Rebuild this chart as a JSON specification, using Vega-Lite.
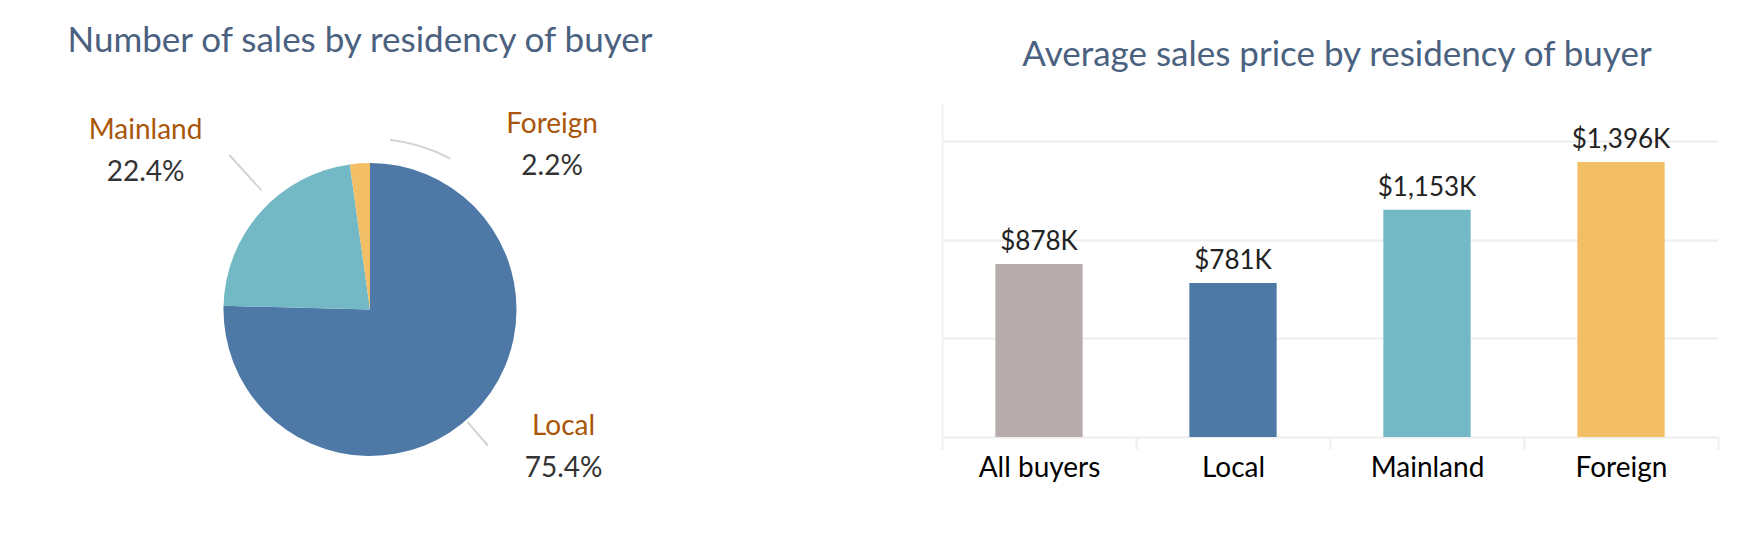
{
  "$schema": "https://vega.github.io/schema/vega-lite/v6.json",
  "padding": {"left": 65, "top": 24, "right": 5, "bottom": 5},
  "background": "white",
  "config": {
    "font": "Lato",
    "view": {"stroke": null},
    "title": {"font": "Lato", "fontSize": 35, "fontWeight": "normal", "color": "#4a6180", "anchor": "middle"}
  },
  "spacing": 271,
  "hconcat": [
    {
      "width": 600,
      "height": 411,
      "title": {"text": "Number of sales by residency of buyer", "offset": 45, "dx": -10},
      "data": {"values": [
        {"residency": "Local", "share": 0.754, "rank": 1},
        {"residency": "Mainland", "share": 0.224, "rank": 2},
        {"residency": "Foreign", "share": 0.022, "rank": 3}
      ]},
      "layer": [
        {
          "mark": {"type": "arc", "outerRadius": 146.5},
          "encoding": {
            "theta": {"field": "share", "type": "quantitative", "stack": true, "scale": {"domain": [0, 1]}},
            "order": {"field": "rank", "type": "quantitative"},
            "color": {"field": "residency", "type": "nominal", "legend": null,
              "scale": {"domain": ["All buyers", "Local", "Mainland", "Foreign"], "range": ["#b6acab", "#4e79a7", "#72b8c5", "#f3bf66"]}}
          }
        },
        {
          "transform": [
            {"stack": "share", "groupby": [], "sort": [{"field": "rank", "order": "ascending"}], "as": ["s0", "s1"]},
            {"calculate": "(datum.s0 + datum.s1) / 2", "as": "mid"},
            {"filter": "datum.residency === 'Local'"}
          ],
          "encoding": {"theta": {"field": "mid", "type": "quantitative", "stack": null, "scale": {"domain": [0, 1]}}},
          "layer": [
            {
              "mark": {"type": "arc", "innerRadius": 149, "outerRadius": 180, "thetaOffset": 0.053, "theta2Offset": 0.065, "color": "#d4d4d4"},
              "encoding": {"theta2": {"field": "mid"}}
            },
            {
              "mark": {"type": "text", "radius": 238, "thetaOffset": -0.177, "dy": -21, "fontSize": 28, "color": "#a9560a", "baseline": "middle"},
              "encoding": {"text": {"field": "residency", "type": "nominal"}}
            },
            {
              "mark": {"type": "text", "radius": 238, "thetaOffset": -0.177, "dy": 21, "fontSize": 28, "color": "#333333", "baseline": "middle"},
              "encoding": {"text": {"field": "share", "type": "quantitative", "format": ".1%"}}
            }
          ]
        },
        {
          "transform": [
            {"stack": "share", "groupby": [], "sort": [{"field": "rank", "order": "ascending"}], "as": ["s0", "s1"]},
            {"calculate": "(datum.s0 + datum.s1) / 2", "as": "mid"},
            {"filter": "datum.residency === 'Mainland'"}
          ],
          "encoding": {"theta": {"field": "mid", "type": "quantitative", "stack": null, "scale": {"domain": [0, 1]}}},
          "layer": [
            {
              "mark": {"type": "arc", "innerRadius": 161, "outerRadius": 209, "thetaOffset": 0.098, "theta2Offset": 0.109, "color": "#d4d4d4"},
              "encoding": {"theta2": {"field": "mid"}}
            },
            {
              "mark": {"type": "text", "radius": 274, "thetaOffset": -0.118, "dy": -21, "fontSize": 28, "color": "#a9560a", "baseline": "middle"},
              "encoding": {"text": {"field": "residency", "type": "nominal"}}
            },
            {
              "mark": {"type": "text", "radius": 274, "thetaOffset": -0.118, "dy": 21, "fontSize": 28, "color": "#333333", "baseline": "middle"},
              "encoding": {"text": {"field": "share", "type": "quantitative", "format": ".1%"}}
            }
          ]
        },
        {
          "transform": [
            {"stack": "share", "groupby": [], "sort": [{"field": "rank", "order": "ascending"}], "as": ["s0", "s1"]},
            {"calculate": "(datum.s0 + datum.s1) / 2", "as": "mid"},
            {"filter": "datum.residency === 'Foreign'"}
          ],
          "encoding": {"theta": {"field": "mid", "type": "quantitative", "stack": null, "scale": {"domain": [0, 1]}}},
          "layer": [
            {
              "mark": {"type": "arc", "innerRadius": 170, "outerRadius": 172, "thetaOffset": 0.186, "theta2Offset": 0.558, "color": "#d4d4d4"},
              "encoding": {"theta2": {"field": "mid"}}
            },
            {
              "mark": {"type": "text", "radius": 245, "thetaOffset": 0.907, "dy": -21, "fontSize": 28, "color": "#a9560a", "baseline": "middle"},
              "encoding": {"text": {"field": "residency", "type": "nominal"}}
            },
            {
              "mark": {"type": "text", "radius": 245, "thetaOffset": 0.907, "dy": 21, "fontSize": 28, "color": "#333333", "baseline": "middle"},
              "encoding": {"text": {"field": "share", "type": "quantitative", "format": ".1%"}}
            }
          ]
        }
      ]
    },
    {
      "width": 776,
      "height": 333,
      "title": {"text": "Average sales price by residency of buyer", "offset": 31, "dx": 7},
      "data": {"values": [
        {"residency": "All buyers", "price": 878},
        {"residency": "Local", "price": 781},
        {"residency": "Mainland", "price": 1153},
        {"residency": "Foreign", "price": 1396}
      ]},
      "transform": [{"calculate": "'$' + format(datum.price, ',') + 'K'", "as": "label"}],
      "encoding": {
        "x": {"field": "residency", "type": "nominal", "sort": ["All buyers", "Local", "Mainland", "Foreign"],
          "scale": {"paddingInner": 0, "paddingOuter": 0},
          "axis": {"title": null, "labelAngle": 0, "labelFontSize": 28, "labelColor": "#000000", "labelPadding": 5,
            "tickBand": "extent", "tickSize": 12, "tickColor": "#eeeeee", "tickWidth": 2,
            "domainColor": "#eeeeee", "domainWidth": 2, "grid": false}},
        "y": {"field": "price", "type": "quantitative", "scale": {"domain": [0, 1690], "nice": false},
          "axis": {"title": null, "labels": false, "ticks": false, "values": [500, 1000, 1500],
            "grid": true, "gridColor": "#eeeeee", "gridWidth": 2, "domain": true, "domainColor": "#f2f2f2", "domainWidth": 2}}
      },
      "layer": [
        {
          "mark": {"type": "bar", "width": {"band": 0.45}},
          "encoding": {
            "color": {"field": "residency", "type": "nominal", "legend": null,
              "scale": {"domain": ["All buyers", "Local", "Mainland", "Foreign"], "range": ["#b6acab", "#4e79a7", "#72b8c5", "#f3bf66"]}}
          }
        },
        {
          "mark": {"type": "text", "baseline": "alphabetic", "dy": -14, "fontSize": 26, "color": "#222222"},
          "encoding": {"text": {"field": "label", "type": "nominal"}}
        }
      ]
    }
  ]
}
